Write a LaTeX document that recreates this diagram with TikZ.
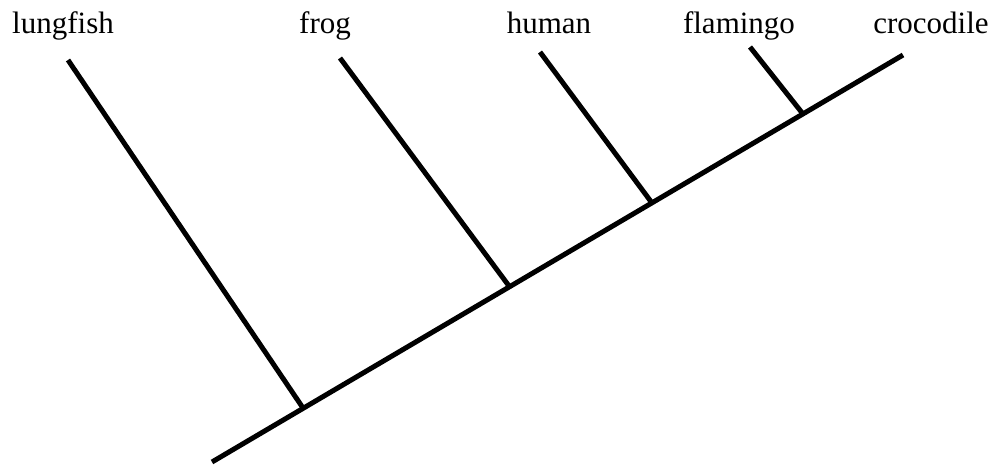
\documentclass[tikz,border=0pt]{standalone}
\usepackage{fontspec}
\setmainfont{Liberation Serif}
\usetikzlibrary{positioning}

\tikzset{
  branch/.style={line width=5pt},
  taxon/.style={anchor=base, inner sep=0pt, font=\fontsize{31}{36}\selectfont}
}

\begin{document}
\begin{tikzpicture}[x=1pt, y=-1pt]
\useasboundingbox (0,0) rectangle (992,466);

% taxa along the top
\node[taxon] (lungfish)  at (63,33)  {lungfish};
\node[taxon] (frog)      at (325,33) {frog};
\node[taxon] (human)     at (549,33) {human};
\node[taxon] (flamingo)  at (739,33) {flamingo};
\node[taxon] (crocodile) at (931,33) {crocodile};

% stem and branch points
\coordinate (root) at (212,462);
\coordinate (tipCroc) at (903,55);
\coordinate (nLung) at (303,408);
\coordinate (nFrog) at (509,286);
\coordinate (nHuman) at (652,203);
\coordinate (nFlam) at (803,114);

% branch tips
\coordinate (tipLung) at (68,60);
\coordinate (tipFrog) at (340,58);
\coordinate (tipHuman) at (540,52);
\coordinate (tipFlam) at (750,47);

\draw[branch] (root) -- (tipCroc);
\draw[branch] (nLung) -- (tipLung);
\draw[branch] (nFrog) -- (tipFrog);
\draw[branch] (nHuman) -- (tipHuman);
\draw[branch] (nFlam) -- (tipFlam);
\end{tikzpicture}
\end{document}
